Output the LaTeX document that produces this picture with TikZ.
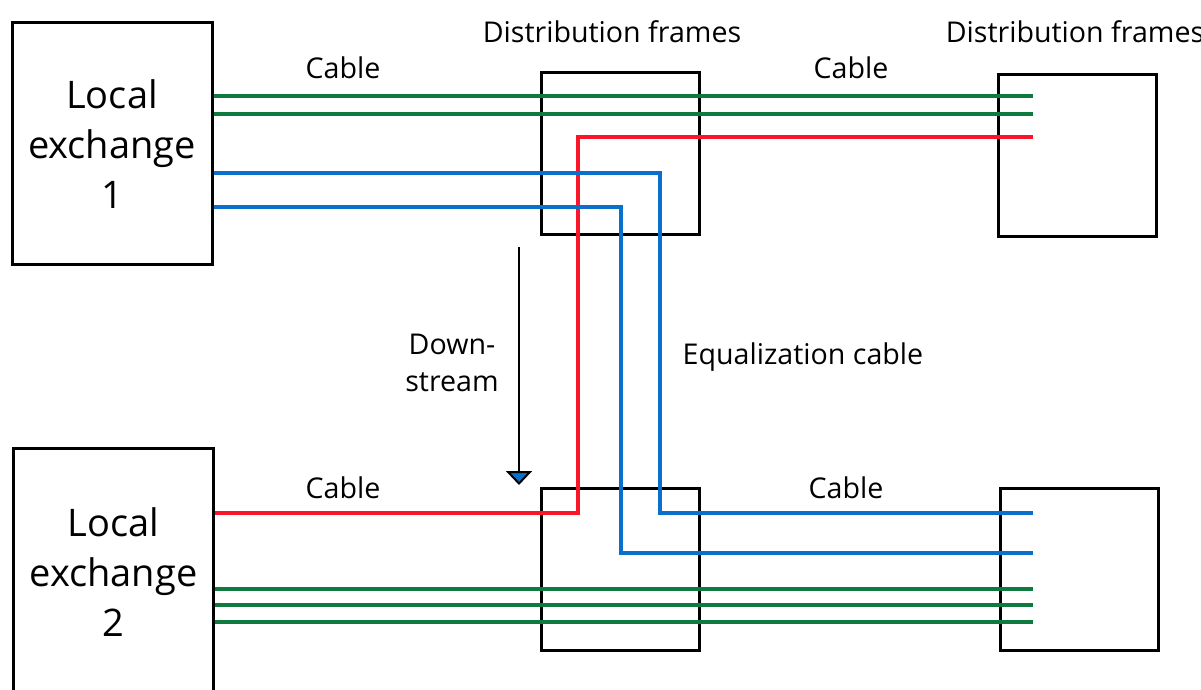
\documentclass[tikz,border=0pt]{standalone}
\usepackage{fontspec}
\setmainfont{Open Sans}
\usetikzlibrary{arrows.meta,calc}
\definecolor{wiregreen}{RGB}{16,122,62}
\definecolor{wirered}{RGB}{250,22,40}
\definecolor{wireblue}{RGB}{10,112,204}
\tikzset{
  fig/.style={font=\fontsize{14.3}{18.5}\selectfont},
  exch/.style={draw,line width=1.5pt,minimum width=100pt,minimum height=121pt,
               align=center,inner sep=0pt,font=\fontsize{19}{25}\selectfont},
  frame/.style={draw,line width=1.5pt,minimum width=79pt,minimum height=81pt,inner sep=0pt},
  gw/.style={wiregreen,line width=1.6pt},
  rw/.style={wirered,line width=1.6pt},
  bw/.style={wireblue,line width=1.6pt},
  ln/.style={-{Triangle[length=7pt,width=13pt,fill=wireblue]},line width=1pt},
  lbl/.style={inner sep=1pt},
}

\begin{document}
\begin{tikzpicture}[fig,x=0.5pt,y=-0.5pt]
\useasboundingbox (0,0) rectangle (1201,690);

% =======================  boxes  =====================
\node[exch] (le1) at (112,144) {Local\\exchange\\1};
\node[exch,minimum height=124pt] (le2) at (113.5,572) {Local\\exchange\\2};
\node[frame] (df1) at (620,153.5) {};
\node[frame] (df2) at (1077,156) {};
\node[frame] (df3) at (620,569) {};
\node[frame] (df4) at (1079,569) {};

% wire ends inside the right frames
\coordinate (g1) at (1033,96);
\coordinate (g2) at (1033,114);
\coordinate (r1) at (1033,137);
\coordinate (b1) at (1033,513);
\coordinate (b2) at (1033,553);
\coordinate (g3) at (1033,589);
\coordinate (g4) at (1033,605);
\coordinate (g5) at (1033,622);

% =======================  cables  =====================
\draw[gw] (le1.east |- g1) -- (g1);
\draw[gw] (le1.east |- g2) -- (g2);
\draw[rw] (r1) -- (578,137) -- (578,513) -- (le2.east |- 0,513);
\draw[bw] (le1.east |- 0,173) -- (660,173) -- (660,513) -- (b1);
\draw[bw] (le1.east |- 0,207) -- (621,207) -- (621,553) -- (b2);
\draw[gw] (le2.east |- g3) -- (g3);
\draw[gw] (le2.east |- g4) -- (g4);
\draw[gw] (le2.east |- g5) -- (g5);

% =======================  labels  =====================
\node[lbl] (t1) at (612,32) {Distribution frames};
\node[lbl] (t2) at (1075,32) {Distribution frames};
\node[lbl] (c1) at (343,68) {Cable};
\node[lbl] (c2) at (851,68) {Cable};
\node[lbl] (c3) at (343,488) {Cable};
\node[lbl] (c4) at (846,488) {Cable};
\node[lbl,align=center] (ds) at (452,363) {Down-\\stream};
\node[lbl] (eq) at (803,357) {Equalization cable};

\coordinate (a0) at (519,247);
\coordinate (a1) at (519,485);
\draw[ln] (a0) -- (a1);

\end{tikzpicture}
\end{document}
